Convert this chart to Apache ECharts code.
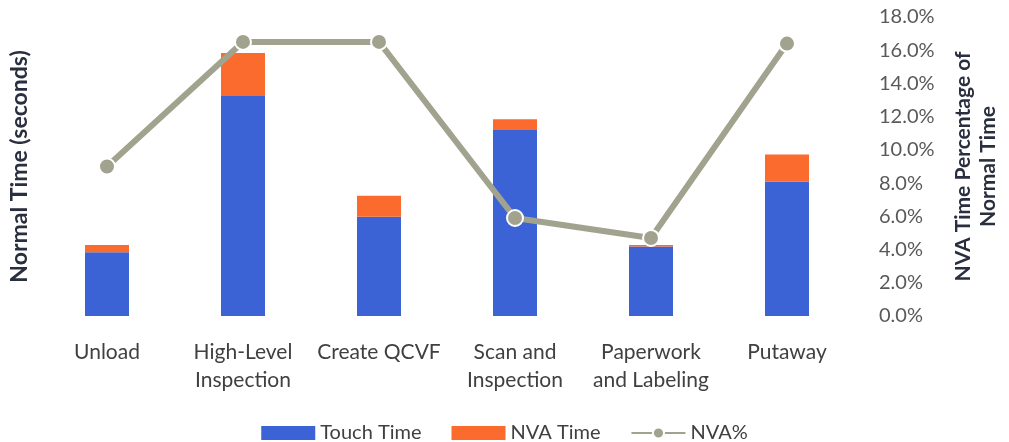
<!DOCTYPE html>
<html>
<head>
<meta charset="utf-8">
<script src="https://cdn.jsdelivr.net/npm/echarts@6/dist/echarts.min.js"></script>
<style>
  html, body { margin: 0; padding: 0; background: #fff; }
  #chart { width: 1009px; height: 442px; }
</style>
</head>
<body>
<div id="chart"></div>
<script>
// Process steps
const categories = ['Unload', 'High-Level\nInspection', 'Create QCVF', 'Scan and\nInspection', 'Paperwork\nand Labeling', 'Putaway'];
// Normal time split into touch time and non-value-added time (seconds)
const touchTime = [19.2, 66.2, 29.9, 56.0, 20.9, 40.4];
const nvaTime = [2.2, 13.0, 6.3, 3.2, 0.5, 8.2];
// NVA time as a share of normal time (%)
const nvaPct = [9.0, 16.5, 16.5, 5.9, 4.7, 16.4];

const FONT = 'Lato, "Open Sans", sans-serif';
const chart = echarts.init(document.getElementById('chart'));

chart.setOption({
  animation: false,
  textStyle: { fontFamily: FONT },
  grid: { left: 38, right: 148, top: 17, bottom: 126, containLabel: false },
  legend: {
    top: 418,
    left: 'center',
    itemGap: 30,
    itemWidth: 54,
    itemHeight: 14,
    textStyle: { fontSize: 20, color: '#404040', fontFamily: FONT },
    data: [
      { name: 'Touch Time', icon: 'rect' },
      { name: 'NVA Time', icon: 'rect' },
      { name: 'NVA%' }
    ]
  },
  xAxis: {
    type: 'category',
    data: categories,
    axisLine: { show: false },
    axisTick: { show: false },
    axisLabel: {
      fontSize: 21, color: '#404040', margin: 22, lineHeight: 28,
      interval: 0, fontFamily: FONT
    }
  },
  yAxis: [
    {
      type: 'value',
      min: 0, max: 90,
      name: 'Normal Time (seconds)',
      nameLocation: 'middle',
      nameGap: 8,
      nameTextStyle: { fontSize: 23, fontWeight: 'bold', color: '#2a2f3f', fontFamily: FONT },
      axisLabel: { show: false },
      axisTick: { show: false },
      axisLine: { show: false },
      splitLine: { show: false }
    },
    {
      type: 'value',
      min: 0, max: 18, interval: 2,
      position: 'right',
      name: 'NVA Time Percentage of\nNormal Time',
      nameLocation: 'middle',
      nameRotate: 90,
      nameGap: 96,
      nameTextStyle: { fontSize: 21, fontWeight: 'bold', color: '#2a2f3f', lineHeight: 25, fontFamily: FONT },
      axisLabel: {
        formatter: v => v.toFixed(1) + '%',
        fontSize: 20, color: '#595959', margin: 24, fontFamily: FONT
      },
      axisTick: { show: false },
      axisLine: { show: false },
      splitLine: { show: false }
    }
  ],
  series: [
    {
      name: 'Touch Time', type: 'bar', stack: 'time', yAxisIndex: 0,
      barWidth: 44, data: touchTime,
      itemStyle: { color: '#3b63d6' }
    },
    {
      name: 'NVA Time', type: 'bar', stack: 'time', yAxisIndex: 0,
      barWidth: 44, data: nvaTime,
      itemStyle: { color: '#fb6b2d' }
    },
    {
      name: 'NVA%', type: 'line', yAxisIndex: 1, data: nvaPct, z: 5,
      symbol: 'circle', symbolSize: 16,
      lineStyle: { color: '#a2a38e', width: 6 },
      itemStyle: { color: '#a2a38e', borderColor: '#ffffff', borderWidth: 2 }
    }
  ]
});
</script>
</body>
</html>
